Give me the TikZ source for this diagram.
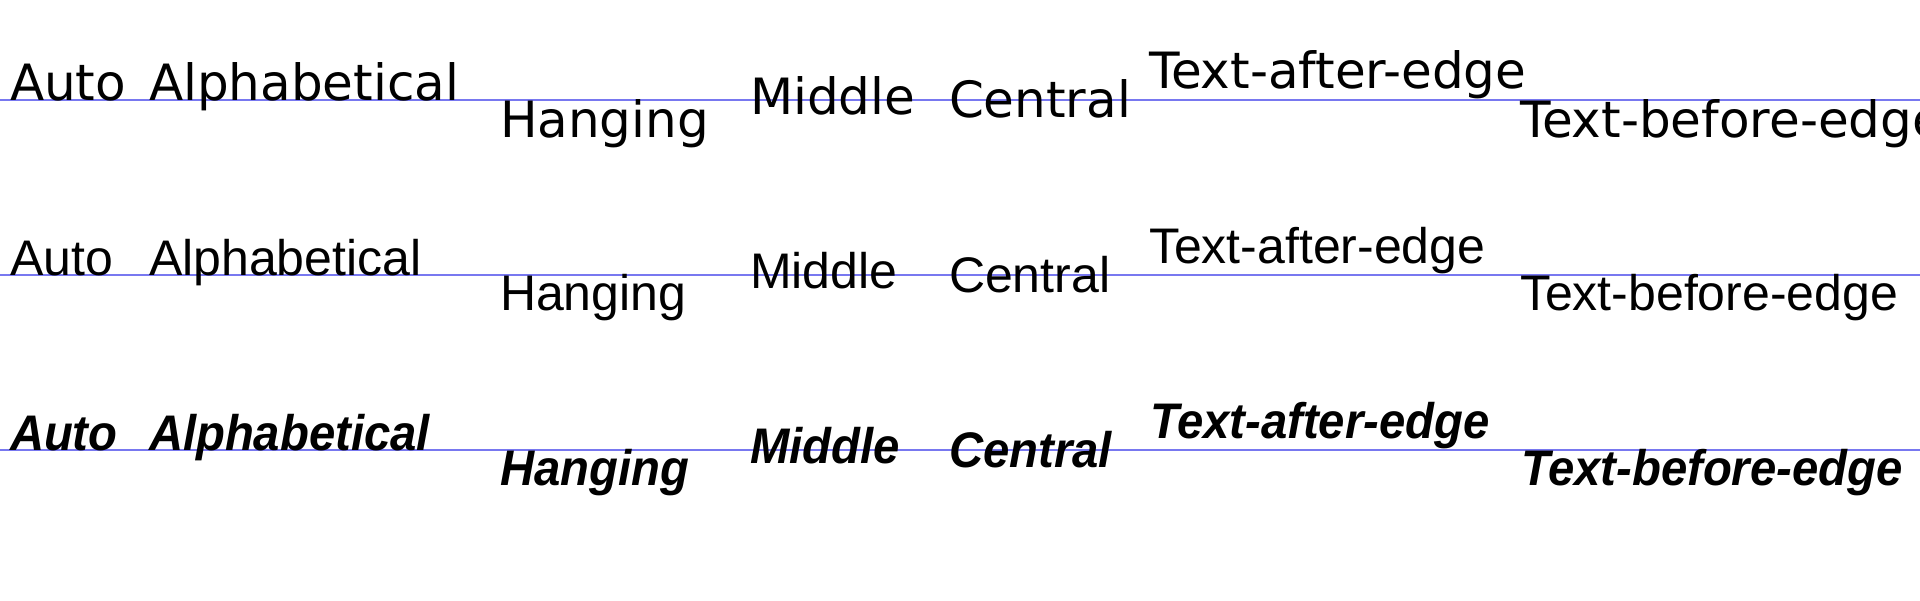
\documentclass[tikz,border=0pt]{standalone}
\usepackage{fontspec}
\newfontfamily\dvfont{DejaVu Sans}
\newfontfamily\rbfont[FakeStretch=1.0]{Liberation Sans}
\newfontfamily\rbbifont[FakeStretch=0.945]{Liberation Sans}
\definecolor{baseblue}{RGB}{120,120,240}
\begin{document}
\begin{tikzpicture}[x=1pt,y=-1pt,
  baseline line/.style={draw=baseblue,line width=1.3pt},
  w/.style={anchor=base west,inner sep=0pt,outer sep=0pt,text=black},
  rowa/.style={w,font=\dvfont\fontsize{50}{60}\selectfont},
  rowb/.style={w,font=\rbfont\fontsize{50}{60}\selectfont},
  rowc/.style={w,font=\rbbifont\bfseries\itshape\fontsize{50}{60}\selectfont}]
\useasboundingbox (0,0) rectangle (1920,600);
\clip (0,0) rectangle (1920,600);
% baselines
\coordinate (l1a) at (0,100); \coordinate (l1b) at (1920,100);
\coordinate (l2a) at (0,275); \coordinate (l2b) at (1920,275);
\coordinate (l3a) at (0,450); \coordinate (l3b) at (1920,450);
\draw[baseline line] (l1a) -- (l1b);
\draw[baseline line] (l2a) -- (l2b);
\draw[baseline line] (l3a) -- (l3b);
% row 1
\node[rowa] (a1) at (10,100) {Auto};
\node[rowa] (a2) at (149,100) {Alphabetical};
\node[rowa] (a3) at (500,137) {Hanging};
\node[rowa] (a4) at (750,114) {Middle};
\node[rowa] (a5) at (949,117) {Central};
\node[rowa] (a6) at (1149,88) {Text-after-edge};
\node[rowa] (a7) at (1520,137) {Text-before-edge};
% row 2
\node[rowb] (b1) at (10,275) {Auto};
\node[rowb] (b2) at (149,275) {Alphabetical};
\node[rowb] (b3) at (500,310) {Hanging};
\node[rowb] (b4) at (750,288) {Middle};
\node[rowb] (b5) at (949,292) {Central};
\node[rowb] (b6) at (1149,263) {Text-after-edge};
\node[rowb] (b7) at (1520,310) {Text-before-edge};
% row 3
\node[rowc] (c1) at (10,450) {Auto};
\node[rowc] (c2) at (149,450) {Alphabetical};
\node[rowc] (c3) at (500,485) {Hanging};
\node[rowc] (c4) at (750,463) {Middle};
\node[rowc] (c5) at (949,467) {Central};
\node[rowc] (c6) at (1150,438) {Text-after-edge};
\node[rowc] (c7) at (1521,485) {Text-before-edge};
\end{tikzpicture}
\end{document}
